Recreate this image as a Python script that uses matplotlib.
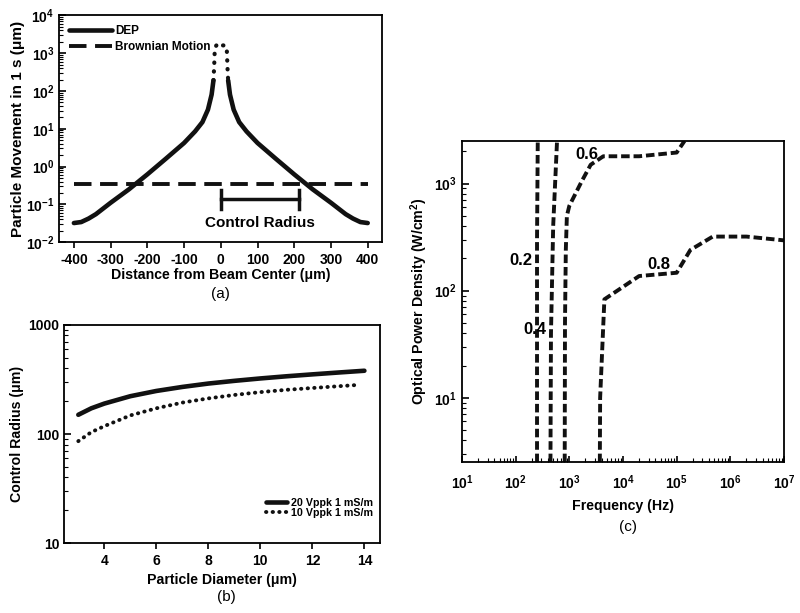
import numpy as np
import matplotlib
matplotlib.use("agg")
import matplotlib.pyplot as plt
from matplotlib.ticker import LogLocator, NullFormatter, FixedLocator

#### Data ####
# (a) particle movement vs distance
dep_x = [-400, -380, -360, -340, -300, -250, -200, -150, -100, -70, -50, -35, -25, -20,
         20, 25, 35, 50, 70, 100, 150, 200, 250, 300, 340, 360, 380, 400]
dep_y = [0.032, 0.034, 0.042, 0.055, 0.11, 0.25, 0.62, 1.6, 4.2, 8.5, 15, 32, 80, 190,
         190, 80, 32, 15, 8.5, 4.2, 1.6, 0.62, 0.25, 0.11, 0.055, 0.042, 0.034, 0.032]
peak_left_x = [-20, -18, -17, -16, -12, -6]
peak_left_y = [190, 450, 900, 1400, 1600, 1600]
peak_right_x = [6, 12, 16, 17, 18, 20]
peak_right_y = [1600, 1600, 1400, 900, 450, 190]
brownian_x = [-400, 400]
brownian_y = [0.35, 0.35]
radius_span = [0, 212]

# (b) control radius vs particle diameter
diam_20 = [3, 3.5, 4, 5, 6, 7, 8, 9, 10, 11, 12, 13, 14]
radius_20 = [150, 172, 190, 222, 248, 270, 290, 307, 323, 338, 352, 366, 380]
diam_10 = [3, 3.5, 4, 5, 6, 7, 8, 9, 10, 11, 12, 13, 13.8]
radius_10 = [86, 104, 118, 148, 172, 194, 212, 228, 242, 254, 264, 274, 282]

# (c) contours: frequency (Hz) vs optical power density
c02_f = [250, 250, 258]
c02_p = [2.5, 300, 2500]
c04_f = [445, 455, 500, 590]
c04_p = [2.5, 40, 400, 2500]
c06_f = [820, 830, 860, 900, 1000, 1700, 2500, 4300, 20000, 100000, 140000]
c06_p = [2.5, 50, 240, 500, 620, 1050, 1500, 1800, 1800, 1950, 2500]
c08_f = [3700, 3750, 4500, 20000, 100000, 180000, 470000, 2000000, 10000000]
c08_p = [2.5, 10, 83, 137, 147, 240, 320, 320, 295]
c_labels = ["0.2", "0.4", "0.6", "0.8"]
c_label_f = [75, 137, 1320, 29000]
c_label_p = [190, 43, 1860, 175]

#### Style ####
plt.rcParams["font.family"] = ["Liberation Sans", "DejaVu Sans"]
plt.rcParams["font.weight"] = "bold"
plt.rcParams["axes.labelweight"] = "bold"
plt.rcParams["axes.unicode_minus"] = False
plt.rcParams["mathtext.fontset"] = "custom"
plt.rcParams["mathtext.rm"] = "Liberation Sans:bold"
plt.rcParams["mathtext.it"] = "Liberation Sans:bold"
plt.rcParams["mathtext.bf"] = "Liberation Sans:bold"
plt.rcParams["axes.linewidth"] = 1.3
plt.rcParams["font.size"] = 9

fig = plt.figure(figsize=(8, 6.13), dpi=100)

def style_axes(ax, xdir="out"):
    ax.tick_params(axis="y", which="both", direction="in", labelsize=10)
    ax.tick_params(axis="y", which="major", length=5, width=1.2)
    ax.tick_params(axis="y", which="minor", length=3, width=0.8)
    ax.tick_params(axis="x", which="both", direction=xdir, labelsize=10)
    ax.tick_params(axis="x", which="major", length=4, width=1.2)
    ax.tick_params(axis="x", which="minor", length=3, width=0.8)

#### (a) ####
ax1 = fig.add_axes([0.074, 0.605, 0.404, 0.370])
ax1.set_yscale("log")
ax1.plot(dep_x[:14], dep_y[:14], color="#111111", lw=3.3, label="DEP", solid_capstyle="round")
ax1.plot(dep_x[14:], dep_y[14:], color="#111111", lw=3.3, solid_capstyle="round")
ax1.plot(brownian_x, brownian_y, color="#111111", lw=2.8, dashes=(4.5, 2.2), label="Brownian Motion")
ax1.plot(peak_left_x, peak_left_y, color="#111111", lw=3, linestyle=(0, (0.1, 2.0)), dash_capstyle="round")
ax1.plot(peak_right_x, peak_right_y, color="#111111", lw=3, linestyle=(0, (0.1, 2.0)), dash_capstyle="round")
ax1.plot(radius_span, [0.135, 0.135], color="#111111", lw=2.5)
ax1.plot([radius_span[0]] * 2, [0.075, 0.24], color="#111111", lw=2.5)
ax1.plot([radius_span[1]] * 2, [0.075, 0.24], color="#111111", lw=2.5)
ax1.text(np.mean(radius_span), 0.033, "Control Radius", ha="center", va="center", fontsize=11)
ax1.set_xlim(-440, 440)
ax1.set_ylim(1e-2, 1e4)
ax1.set_xticks(range(-400, 401, 100))
ax1.yaxis.set_major_locator(LogLocator(base=10, numticks=10))
ax1.yaxis.set_minor_locator(LogLocator(base=10, subs=np.arange(2, 10), numticks=10))
ax1.yaxis.set_minor_formatter(NullFormatter())
ax1.set_xlabel("Distance from Beam Center (μm)", fontsize=10.2, labelpad=1)
ax1.set_ylabel("Particle Movement in 1 s (μm)", fontsize=11, labelpad=1)
style_axes(ax1)
ax1.legend(loc="upper left", frameon=False, fontsize=8.5, handlelength=3.6,
           borderaxespad=0.45, handletextpad=0.3, labelspacing=0.35)
fig.text(0.275, 0.521, "(a)", ha="center", va="center", fontsize=11, fontweight="normal")

#### (b) ####
ax2 = fig.add_axes([0.080, 0.114, 0.395, 0.356])
ax2.set_yscale("log")
ax2.plot(diam_20, radius_20, color="#111111", lw=3.3, label="20 Vppk 1 mS/m", solid_capstyle="round")
ax2.plot(diam_10, radius_10, color="#111111", lw=2.8, linestyle=(0, (0.1, 1.6)),
         dash_capstyle="round", label="10 Vppk 1 mS/m")
ax2.set_xlim(2.45, 14.6)
ax2.set_ylim(10, 1000)
ax2.set_xticks(range(4, 15, 2))
ax2.yaxis.set_major_locator(FixedLocator([10, 100, 1000]))
ax2.set_yticklabels(["10", "100", "1000"])
ax2.yaxis.set_minor_locator(LogLocator(base=10, subs=np.arange(2, 10), numticks=10))
ax2.yaxis.set_minor_formatter(NullFormatter())
ax2.set_xlabel("Particle Diameter (μm)", fontsize=10.2, labelpad=4)
ax2.set_ylabel("Control Radius (μm)", fontsize=10.2, labelpad=3)
style_axes(ax2)
ax2.legend(loc="lower right", frameon=False, fontsize=7.7, handlelength=2.0,
           borderaxespad=0.3, handletextpad=0.3, labelspacing=0.05, bbox_to_anchor=(1.0, 0.08))
fig.text(0.283, 0.026, "(b)", ha="center", va="center", fontsize=11, fontweight="normal")

#### (c) ####
ax3 = fig.add_axes([0.5775, 0.246, 0.4025, 0.524])
ax3.set_xscale("log")
ax3.set_yscale("log")
for f, p in [(c02_f, c02_p), (c04_f, c04_p), (c06_f, c06_p), (c08_f, c08_p)]:
    ax3.plot(f, p, color="#111111", lw=2.8, dashes=(2.2, 1.0))
for lab, f, p in zip(c_labels, c_label_f, c_label_p):
    ax3.text(f, p, lab, ha="left", va="center", fontsize=12)
ax3.set_xlim(10, 1e7)
ax3.set_ylim(2.5, 2500)
ax3.xaxis.set_major_locator(LogLocator(base=10, numticks=10))
ax3.xaxis.set_minor_locator(LogLocator(base=10, subs=np.arange(2, 10), numticks=10))
ax3.xaxis.set_minor_formatter(NullFormatter())
ax3.yaxis.set_major_locator(FixedLocator([10, 100, 1000]))
ax3.yaxis.set_minor_locator(LogLocator(base=10, subs=np.arange(2, 10), numticks=10))
ax3.yaxis.set_minor_formatter(NullFormatter())
ax3.set_xlabel("Frequency (Hz)", fontsize=10.2, labelpad=5)
ax3.set_ylabel("Optical Power Density (W/cm$^2$)", fontsize=10.2, labelpad=3)
style_axes(ax3, xdir="in")
ax3.tick_params(axis="x", which="major", pad=8)
fig.text(0.785, 0.140, "(c)", ha="center", va="center", fontsize=11, fontweight="normal")

fig.savefig("out.png", dpi=100)
